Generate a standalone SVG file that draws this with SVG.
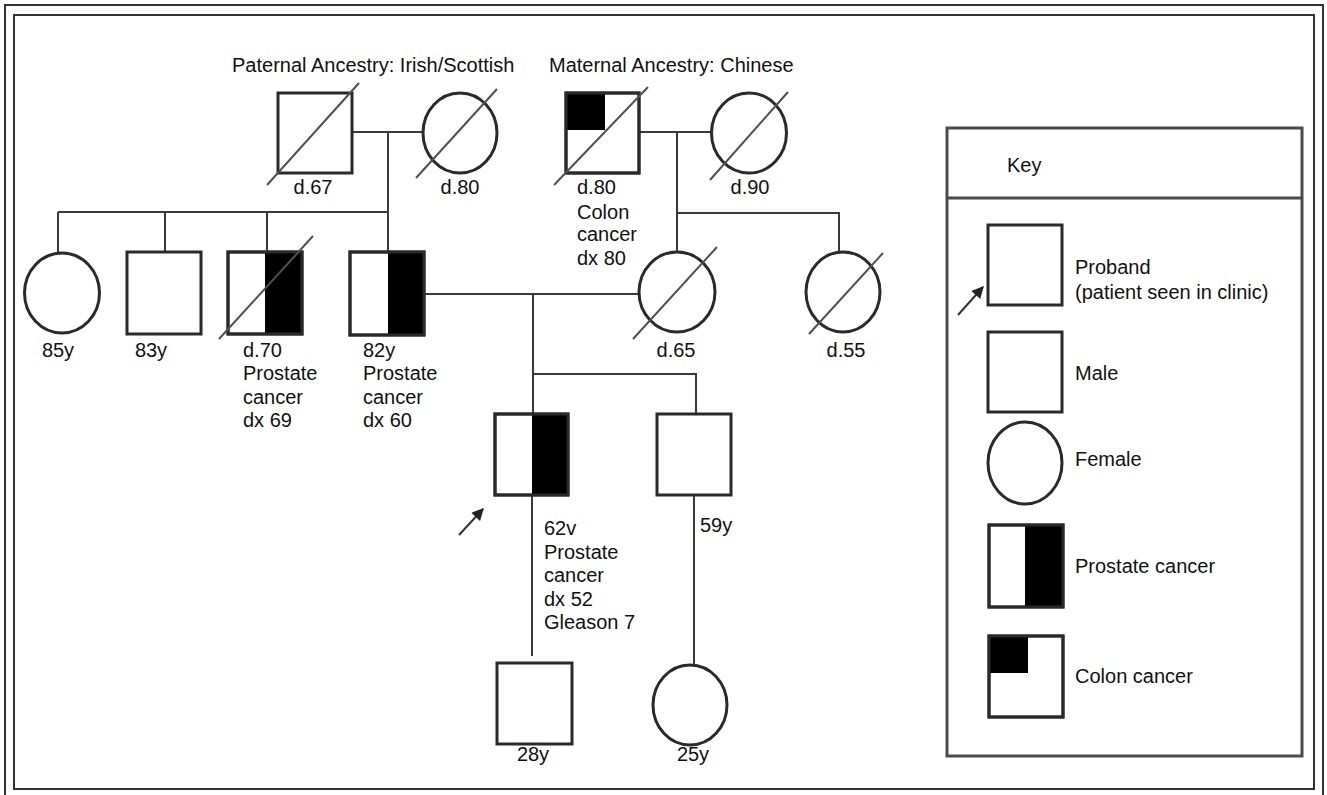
<svg xmlns="http://www.w3.org/2000/svg" width="1327" height="795" viewBox="0 0 1327 795">
<defs>
<style>
.sym{fill:#fff;stroke:#2a2a2a;stroke-width:3}
.out{fill:none;stroke:#2a2a2a;stroke-width:3}
.blk{fill:#000;stroke:none}
.ln{fill:none;stroke:#3a3a3a;stroke-width:2}
.dg{stroke:#505050;stroke-width:2}
.ar{stroke:#333;stroke-width:2;marker-end:url(#ah)}
text{font-family:"Liberation Sans",Arial,sans-serif;font-size:20px;fill:#111}
.m{text-anchor:middle}
</style>
<marker id="ah" viewBox="0 0 10 10" refX="9" refY="5" markerWidth="6.5" markerHeight="6" orient="auto" markerUnits="strokeWidth">
<path d="M0,0 L10,5 L0,10 z" fill="#222"/>
</marker>
</defs>
<rect width="1327" height="795" fill="#fff"/>
<g id="frame">
<path d="M5,800 V5 H1323 V800" fill="none" stroke="#333" stroke-width="2"/>
<rect x="14" y="15" width="1300" height="774" fill="none" stroke="#333" stroke-width="2"/>
</g>
<g id="headings">
<text x="232" y="72">Paternal Ancestry: Irish/Scottish</text>
<text x="549" y="72">Maternal Ancestry: Chinese</text>
</g>
<g id="connectors">
<path class="ln" d="M352,132 H423"/>
<path class="ln" d="M388,132 V212"/>
<path class="ln" d="M58,212 H388"/>
<path class="ln" d="M58,212 V254"/>
<path class="ln" d="M165,212 V252"/>
<path class="ln" d="M267,212 V252"/>
<path class="ln" d="M388,212 V252"/>
<path class="ln" d="M639,132 H712"/>
<path class="ln" d="M677,132 V252"/>
<path class="ln" d="M677,213 H839 V252"/>
<path class="ln" d="M424,294 H639"/>
<path class="ln" d="M533,294 V414"/>
<path class="ln" d="M533,374 H696 V414"/>
<path class="ln" d="M532,495 V656"/>
<path class="ln" d="M694,495 V665"/>
</g>
<g id="I-1">
<rect class="sym" x="278" y="93" width="74" height="80"/>
<line class="dg" x1="267" y1="185" x2="359" y2="83"/>
<text class="m" x="313" y="194">d.67</text>
</g>
<g id="I-2">
<ellipse class="sym" cx="460" cy="133" rx="37" ry="40"/>
<line class="dg" x1="416" y1="178" x2="497" y2="89"/>
<text class="m" x="460" y="194">d.80</text>
</g>
<g id="I-3">
<rect class="sym" x="566" y="93" width="73" height="80"/>
<rect class="blk" x="566" y="93" width="39" height="37"/>
<rect class="out" x="566" y="93" width="73" height="80"/>
<line class="dg" x1="554" y1="185" x2="648" y2="87"/>
<text x="577" y="194">d.80</text>
<text x="577" y="218.7">Colon</text>
<text x="577" y="241.3">cancer</text>
<text x="577" y="265.3">dx 80</text>
</g>
<g id="I-4">
<ellipse class="sym" cx="749" cy="133" rx="37.5" ry="40"/>
<line class="dg" x1="710" y1="180" x2="788" y2="92"/>
<text class="m" x="750" y="194">d.90</text>
</g>
<g id="II-1">
<ellipse class="sym" cx="62" cy="293" rx="37.5" ry="40"/>
<text class="m" x="58" y="357">85y</text>
</g>
<g id="II-2">
<rect class="sym" x="127" y="252" width="74" height="82"/>
<text class="m" x="151" y="357">83y</text>
</g>
<g id="II-3">
<rect class="sym" x="228" y="252" width="74" height="82"/>
<rect class="blk" x="265" y="252" width="37" height="82"/>
<rect class="out" x="228" y="252" width="74" height="82"/>
<line class="dg" x1="219" y1="339" x2="313" y2="236"/>
<text x="243" y="357">d.70</text>
<text x="243" y="380.3">Prostate</text>
<text x="243" y="404.3">cancer</text>
<text x="243" y="427">dx 69</text>
</g>
<g id="II-4">
<rect class="sym" x="350" y="252" width="74" height="83"/>
<rect class="blk" x="388" y="252" width="36" height="83"/>
<rect class="out" x="350" y="252" width="74" height="83"/>
<text x="363" y="357">82y</text>
<text x="363" y="380.3">Prostate</text>
<text x="363" y="404.3">cancer</text>
<text x="363" y="427">dx 60</text>
</g>
<g id="II-5">
<ellipse class="sym" cx="677" cy="292" rx="38" ry="40"/>
<line class="dg" x1="633" y1="339" x2="717" y2="247"/>
<text class="m" x="676" y="357">d.65</text>
</g>
<g id="II-6">
<ellipse class="sym" cx="843" cy="292" rx="37" ry="40"/>
<line class="dg" x1="809" y1="334" x2="883" y2="253"/>
<text class="m" x="846" y="357">d.55</text>
</g>
<g id="III-1">
<rect class="sym" x="495" y="414" width="73" height="81"/>
<rect class="blk" x="532" y="414" width="36" height="81"/>
<rect class="out" x="495" y="414" width="73" height="81"/>
<line class="ar" x1="459" y1="535" x2="483" y2="509"/>
<text x="544" y="535.3">62v</text>
<text x="544" y="558.7">Prostate</text>
<text x="544" y="582">cancer</text>
<text x="544" y="606">dx 52</text>
<text x="544" y="628.7">Gleason 7</text>
</g>
<g id="III-2">
<rect class="sym" x="657" y="414" width="74" height="81"/>
<text x="700" y="532">59y</text>
</g>
<g id="IV-1">
<rect class="sym" x="497" y="663" width="75" height="81"/>
<text class="m" x="533" y="761">28y</text>
</g>
<g id="IV-2">
<ellipse class="sym" cx="690" cy="705" rx="37" ry="40"/>
<text class="m" x="693" y="761">25y</text>
</g>
<g id="key">
<rect x="947" y="128" width="355" height="628" fill="none" stroke="#4a4a4a" stroke-width="3"/>
<line x1="947" y1="198" x2="1302" y2="198" stroke="#4a4a4a" stroke-width="3"/>
<text x="1007" y="172">Key</text>
<rect class="sym" x="988" y="225" width="74" height="80"/>
<line class="ar" x1="958" y1="315" x2="983" y2="287"/>
<text x="1075" y="274">Proband</text>
<text x="1075" y="299">(patient seen in clinic)</text>
<rect class="sym" x="988" y="332" width="74" height="80"/>
<text x="1075" y="380">Male</text>
<ellipse class="sym" cx="1025" cy="463" rx="37" ry="41"/>
<text x="1075" y="466">Female</text>
<rect class="sym" x="989" y="525" width="74" height="82"/>
<rect class="blk" x="1025" y="525" width="38" height="82"/>
<rect class="out" x="989" y="525" width="74" height="82"/>
<text x="1075" y="573">Prostate cancer</text>
<rect class="sym" x="989" y="636" width="74" height="81"/>
<rect class="blk" x="989" y="636" width="39" height="37"/>
<rect class="out" x="989" y="636" width="74" height="81"/>
<text x="1075" y="683">Colon cancer</text>
</g>
</svg>
